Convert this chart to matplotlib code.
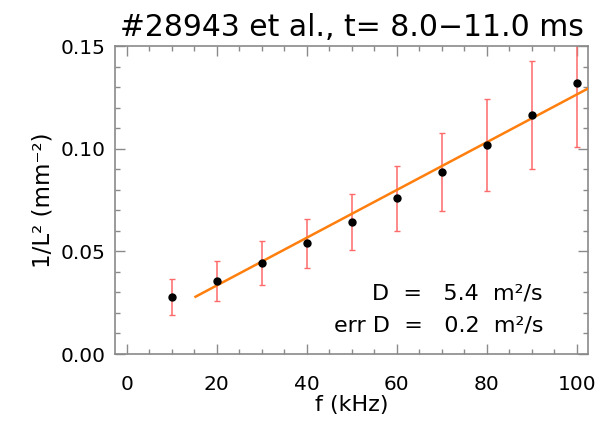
"""
Diffusion fit plot: 1/L^2 against frequency with the linear fit.
"""

import numpy as np
import matplotlib
matplotlib.use("Agg")
import matplotlib.pyplot as plt
from matplotlib.ticker import MultipleLocator

# ---------------------------------------------------------------------
# Data
# ---------------------------------------------------------------------

freq_khz = [10, 20, 30, 40, 50, 60, 70, 80, 90, 100]
inv_L2   = [0.0279, 0.0356, 0.0442, 0.0539, 0.0645, 0.0758,
            0.0885, 0.1018, 0.1164, 0.1319]
inv_L2_err = [0.0088, 0.0096, 0.0107, 0.0120, 0.0136, 0.0158,
              0.0190, 0.0224, 0.0263, 0.0310]

# straight-line fit, drawn from its two end points
fit_f = [15.3, 105.0]
fit_y = [0.0279, 0.1322]

title  = "#28943 et al., t= 8.0\u221211.0 ms"
D_text = ["D  =   5.4  m\u00b2/s", "err D  =   0.2  m\u00b2/s"]

# ---------------------------------------------------------------------
# Figure
# ---------------------------------------------------------------------

plt.rcParams["font.family"] = ["DejaVu Sans"]

frame = "#8a8a8a"

fig = plt.figure(figsize=(6.09, 4.21), dpi=100)
ax = fig.add_axes([0.1888, 0.1591, 0.7767, 0.7316])

ax.errorbar(freq_khz, inv_L2, yerr=inv_L2_err, fmt="none",
            ecolor="#ff6a6a", elinewidth=1.1, capsize=2.5, capthick=1.0,
            zorder=2)
ax.plot(fit_f, fit_y, color="#ff7f0e", lw=1.8, zorder=3)
ax.plot(freq_khz, inv_L2, "o", color="black", ms=5, zorder=4)

ax.set_xlim(-2.6, 102.5)
ax.set_ylim(0.0, 0.15)
ax.xaxis.set_major_locator(MultipleLocator(20))
ax.xaxis.set_minor_locator(MultipleLocator(5))
ax.yaxis.set_major_locator(MultipleLocator(0.05))
ax.yaxis.set_minor_locator(MultipleLocator(0.01))
ax.yaxis.set_major_formatter(plt.FormatStrFormatter("%.2f"))

ax.tick_params(which="both", direction="in", top=True, right=True,
               color=frame, width=1.0, labelsize=14.5)
ax.tick_params(which="major", length=7)
ax.tick_params(which="minor", length=3.5)
ax.tick_params(axis="x", pad=15)
ax.tick_params(axis="y", pad=7)
for sp in ax.spines.values():
    sp.set_color(frame)
    sp.set_linewidth(1.2)

ax.set_title(title, fontsize=21.5, pad=7)
ax.set_xlabel("f (kHz)", fontsize=16, labelpad=1)
ax.set_ylabel("1/L\u00b2 (mm\u207b\u00b2)", fontsize=16.5, labelpad=4)

ax.text(0.905, 0.198, D_text[0], transform=ax.transAxes,
        ha="right", va="center", fontsize=16)
ax.text(0.905, 0.091, D_text[1], transform=ax.transAxes,
        ha="right", va="center", fontsize=16)

plt.savefig("out.png", dpi=100)
plt.close()
